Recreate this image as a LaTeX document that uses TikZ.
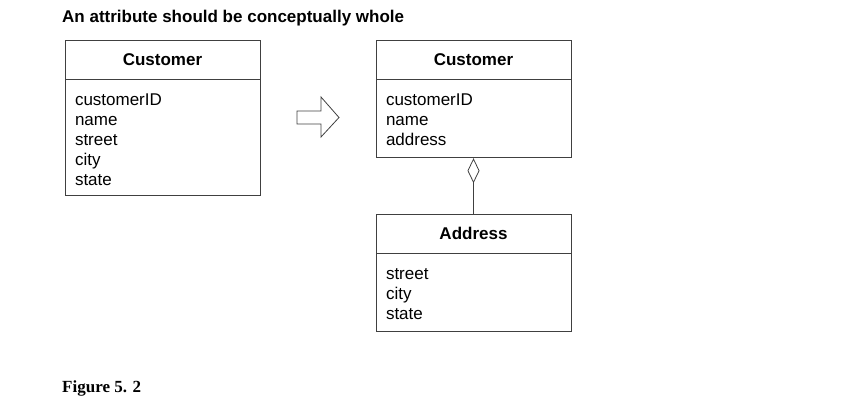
\documentclass[tikz,border=0pt]{standalone}
\usepackage{fontspec}
\setmainfont{Liberation Sans}
\newfontfamily\capfont{Liberation Serif}
\usetikzlibrary{positioning,arrows.meta}
\tikzset{
  umlline/.style = {draw=black!75, line width=0.8pt},
  classhead/.style = {umlline, minimum width=195pt, minimum height=39pt,
    inner sep=0pt, font=\fontsize{17}{20}\selectfont\bfseries},
  classbody/.style = {umlline, minimum width=195pt, text width=175pt,
    inner sep=0pt, align=left, text height=26pt,
    font=\fontsize{17}{20}\selectfont},
  aggregate/.style = {umlline, -{Diamond[open,length=25pt,width=12pt]}}
}

\begin{document}
\begin{tikzpicture}[x=1pt,y=-1pt,
    every node/.style={font=\fontsize{17}{20}\selectfont}]
  \useasboundingbox (0,0) rectangle (862,401);
  % title
  \node[anchor=base west,inner sep=0pt,font=\fontsize{17}{20}\selectfont\bfseries]
    (title) at (62,23) {An attribute should be conceptually whole};
  % before
  \node[classhead] (oldhead) at (162.5,59.5) {Customer};
  \node[classbody,minimum height=116pt,text depth=90pt,below=0pt of oldhead]
    (oldbody) {customerID\\name\\street\\city\\state};
  % the block arrow
  \draw[umlline] (297,111) -- (321,111) -- (321,97) -- (339,117.5)
    -- (321,137) -- (321,124) -- (297,124) -- cycle;
  % after
  \node[classhead] (newhead) at (473.5,59.5) {Customer};
  \node[classbody,minimum height=78pt,text depth=52pt,below=0pt of newhead]
    (newbody) {customerID\\name\\address};
  \node[classhead] (addrhead) at (473.5,233.5) {Address};
  \node[classbody,minimum height=78pt,text depth=52pt,below=0pt of addrhead]
    (addrbody) {street\\city\\state};
  \draw[aggregate] (addrhead.north) -- (newbody.south);
  % caption
  \node[anchor=base west,inner sep=0pt,font=\fontsize{17}{20}\selectfont\capfont\bfseries]
    (figcap) at (62,392) {Figure 5. 2};
\end{tikzpicture}
\end{document}
